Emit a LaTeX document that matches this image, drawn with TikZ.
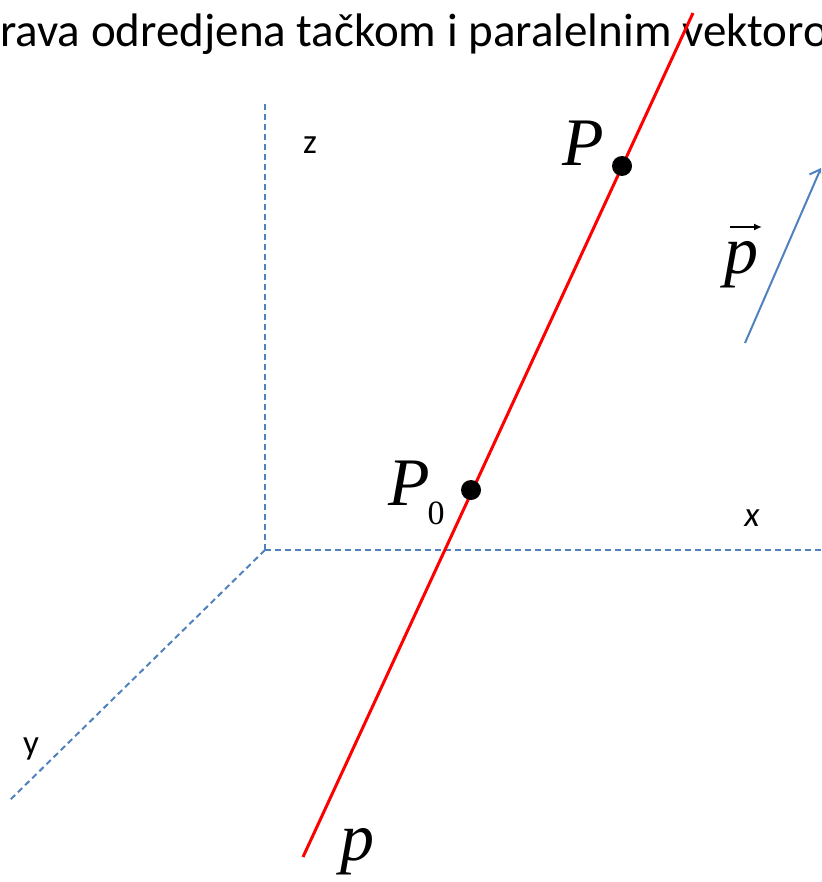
\documentclass[tikz,border=0pt]{standalone}
\usepackage{fontspec}
\setmainfont{Liberation Serif}
\setsansfont{Carlito}
\usetikzlibrary{arrows.meta}
\definecolor{axisblue}{HTML}{4F81BD}
\definecolor{vecblue}{HTML}{4F81BD}
\tikzset{
  axisline/.style={axisblue, line width=2pt, dash pattern=on 6pt off 4pt},
  redline/.style={red, line width=3pt},
  ptdot/.style={circle, fill=black, inner sep=0pt, minimum size=20pt},
  axislabel/.style={font=\sffamily\fontsize{35}{40}\selectfont, inner sep=0pt},
  mathlabel/.style={font=\rmfamily\itshape\fontsize{68}{76}\selectfont, inner sep=0pt},
  titletext/.style={font=\sffamily\fontsize{47}{54}\selectfont, inner sep=0pt, anchor=base west}
}
\begin{document}
\begin{tikzpicture}[x=1pt, y=-1pt]
\useasboundingbox (0,0) rectangle (821,882);
\clip (0,0) rectangle (821,882);
% title
\node[titletext] (title) at (0,47) {rava odredjena tačkom i paralelnim vektorom};
% axes
\coordinate (O) at (265,550);
\coordinate (zend) at (265,103);
\coordinate (xend) at (821,550);
\coordinate (yend) at (10,800);
\draw[axisline] (O) -- (zend);
\draw[axisline] (O) -- (xend);
\draw[axisline] (O) -- (yend);
\node[axislabel] (zl) at (310,145) {z};
\node[axislabel, font=\sffamily\itshape\fontsize{35}{40}\selectfont] (xl) at (752,518) {x};
\node[axislabel] (yl) at (31,749) {y};
% red line
\coordinate (ltop) at (693,13);
\coordinate (lbot) at (303,857);
\draw[redline] (lbot) -- (ltop);
\node[ptdot] (P) at (622,166) {};
\node[ptdot] (P0) at (471,490) {};
\node[mathlabel] (Pl) at (583,143) {P};
\node[mathlabel, anchor=base west] (P0l) at (388,505) {P\kern-2pt\raisebox{-19pt}{\upshape\fontsize{34}{40}\selectfont 0}};
\node[mathlabel] (pl) at (357,852) {p};
% vector
\coordinate (vstart) at (745,343);
\coordinate (vend) at (821,168);
\draw[vecblue, line width=2pt, -{Straight Barb[length=9pt, width=16pt]}] (vstart) -- (vend);
\node[mathlabel] (vl) at (741,265) {p};
\draw[line width=2pt, -{Latex[length=8pt,width=7pt]}] (730,227) -- (762,227);
\end{tikzpicture}
\end{document}
